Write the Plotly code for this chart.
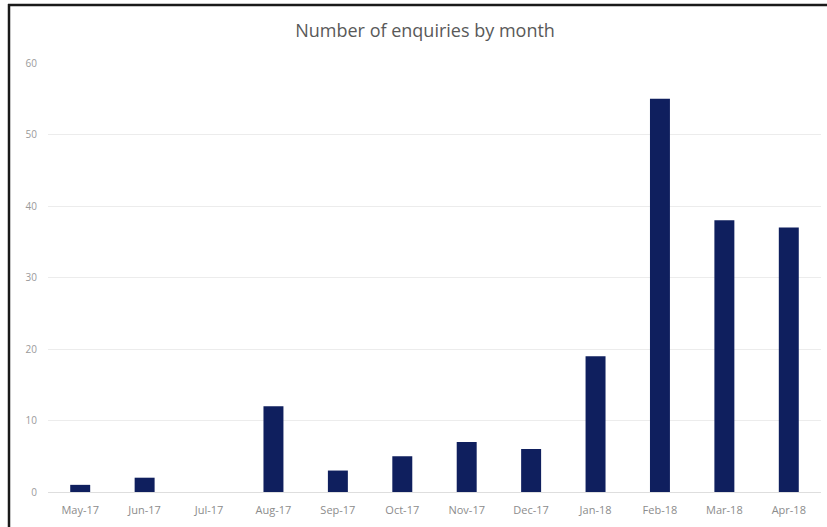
import plotly.graph_objects as go

months = ["May-17", "Jun-17", "Jul-17", "Aug-17", "Sep-17", "Oct-17",
          "Nov-17", "Dec-17", "Jan-18", "Feb-18", "Mar-18", "Apr-18"]
enquiries = [1, 2, 0, 12, 3, 5, 7, 6, 19, 55, 38, 37]
y_ticks = [0, 10, 20, 30, 40, 50, 60]

W, H = 827, 527
ml, mr, mt, mb = 48, 6, 63, 35

fig = go.Figure(go.Bar(x=months, y=enquiries, marker_color="#0f1f5e",
                       marker_line_width=0, width=0.31))

pw = W - ml - mr
ph = H - mt - mb
def px_x(p):
    return (p - ml) / pw
def px_y(p):
    return 1 - (p - mt) / ph

fig.update_layout(
    width=W, height=H,
    margin=dict(l=ml, r=mr, t=mt, b=mb),
    paper_bgcolor="white", plot_bgcolor="white",
    title=dict(text="Number of enquiries by month", x=0.514, xanchor="center",
               y=1 - 31 / H, yanchor="middle",
               font=dict(family="Open Sans", size=18, color="#595959")),
    font=dict(family="Open Sans", size=10, color="#8c8c8c"),
    xaxis=dict(showgrid=False, showline=True, linecolor="#dedede", linewidth=1,
               ticks="", ticklabelstandoff=8,
               tickfont=dict(size=11, color="#8c8c8c")),
    yaxis=dict(range=[0, 60], tickvals=y_ticks, showgrid=True, gridcolor="#ececec",
               gridwidth=1, zeroline=False, ticks="", ticklabelstandoff=10,
               tickfont=dict(size=10, color="#9a9a9a")),
    showlegend=False,
    shapes=[
        dict(type="line", xref="paper", yref="paper", x0=px_x(9), x1=px_x(9),
             y0=px_y(4), y1=px_y(H + 2), line=dict(color="#1a1a1a", width=2.5)),
        dict(type="line", xref="paper", yref="paper", x0=px_x(8), x1=px_x(W + 2),
             y0=px_y(5), y1=px_y(5), line=dict(color="#1a1a1a", width=2.5)),
    ],
)

fig.write_html("out.html")
